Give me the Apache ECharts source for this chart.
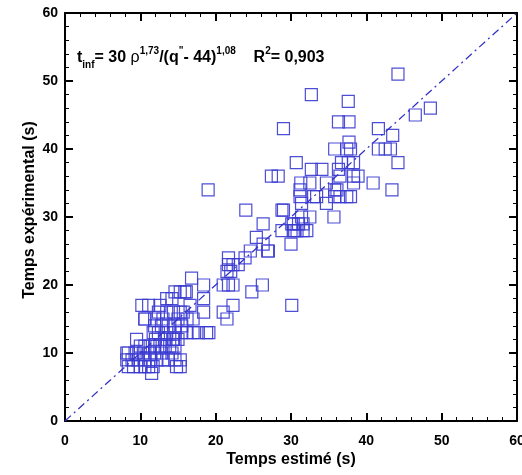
<!DOCTYPE html>
<html><head><meta charset="utf-8">
<script src="https://cdn.jsdelivr.net/npm/echarts@6/dist/echarts.min.js"></script>
<style>html,body{margin:0;padding:0;background:#fff}#c{width:522px;height:475px}</style>
</head><body><div id="c"></div>
<script>
// Estimated time (x) vs experimental time (y)
const estimated = [
44.2,32.7,37.6,48.5,46.5,36.3,37.7,29.0,41.6,43.5,37.7,
35.8,37.4,37.9,41.6,42.5,43.2,
30.7,36.7,37.6,38.3,44.2,
32.7,34.1,36.3,
27.4,28.3,36.5,38.3,38.9,
31.3,32.5,34.7,38.3,40.9,
19.0,31.2,35.8,36.1,43.4,
31.2,33.4,33.0,35.8,36.5,37.4,37.9,
31.4,34.7,
24.0,28.8,29.0,
31.4,32.5,35.7,
26.3,30.3,31.0,31.6,30.1,
28.8,30.3,30.8,31.6,32.1,30.5,
25.4,
26.3,30.0,
24.6,26.9,27.0,
23.9,21.7,
21.7,22.3,23.0,
21.5,22.0,
16.8,
21.0,21.7,22.3,26.2,18.4,
24.8,14.6,15.3,15.9,16.1,
18.4,
22.3,30.1,16.6,
21.0,15.7,12.4,13.5,14.4,15.3,18.4,
21.5,17.0,10.6,16.2,
11.9,12.8,13.7,14.6,15.5,
11.7,12.4,13.5,14.6,15.5,16.2,17.0,17.7,19.1,18.8,
14.4,15.0,9.5,
10.0,10.6,11.3,11.9,12.6,13.3,13.9,14.6,
8.4,9.3,10.4,11.3,11.9,12.8,14.2,8.2,9.5,
8.2,8.9,9.7,10.6,11.3,12.2,13.0,13.7,14.6,15.3,
8.4,9.1,10.0,10.6,11.7,14.8,15.3,11.1,
11.5,
10.2,11.1,12.6,13.5,14.2,
10.6,11.9,13.0,15.0,
12.0,13.2,14.3
];
const experimental = [
51,48,47,46,45,44,44,43,43,42,41,
40,40,40,40,40,40,
38,38,38,38,38,
37,37,37,
36,36,36,36,36,
35,35,35,35,35,
34,34,34,34,34,
33,33,33,33,33,33,33,
32,32,
31,31,31,
30,30,30,
29,29,29,29,29,
28,28,28,28,28,28,
27,
26,26,
25,25,25,
24,24,
23,23,23,
22,22,
21,
20,20,20,20,20,
19,19,19,19,19,
18,
17,17,17,
16,16,16,16,16,16,16,
15,15,15,15,
14,14,14,14,14,
13,13,13,13,13,13,13,13,13,13,
12,12,12,
11,11,11,11,11,11,11,11,
10,10,10,10,10,10,10,10,10,
9,9,9,9,9,9,9,9,9,9,
8,8,8,8,8,8,8,8,
7,
17,17,17,18,18,
15,15,15,15,
12,12,12
];
const fitLine = [[0,0],[60,60]];

const points = estimated.map((x,i)=>[x, experimental[i]]);
const font = '"Liberation Sans", Arial, sans-serif';
function axisCommon() {
  return {
    min: 0, max: 60, interval: 10,
    axisLine: {show: true, onZero: false, lineStyle: {color: '#000', width: 2}},
    axisTick: {show: true, inside: true, length: 8, lineStyle: {color: '#000', width: 2}},
    minorTick: {show: true, splitNumber: 5, length: 4, lineStyle: {color: '#000', width: 1}},
    splitLine: {show: false}
  };
}
const chart = echarts.init(document.getElementById('c'), null, {renderer: 'canvas'});
chart.setOption({
  animation: false,
  backgroundColor: '#fff',
  grid: {left: 65, right: 5, top: 13, bottom: 54, containLabel: false, outerBoundsMode: 'none'},
  xAxis: [
    Object.assign(axisCommon(), {type: 'value', position: 'bottom',
      name: 'Temps estimé (s)', nameLocation: 'middle', nameGap: 31, nameMoveOverlap: false,
      nameTextStyle: {fontFamily: font, fontWeight: 'bold', fontSize: 16, color: '#000'},
      axisLabel: {fontFamily: font, fontWeight: 'bold', fontSize: 14, color: '#000', margin: 13}}),
    Object.assign(axisCommon(), {type: 'value', position: 'top', axisLabel: {show: false}})
  ],
  yAxis: [
    Object.assign(axisCommon(), {type: 'value', position: 'left',
      name: 'Temps expérimental (s)', nameLocation: 'middle', nameGap: 27, nameMoveOverlap: false,
      nameTextStyle: {fontFamily: font, fontWeight: 'bold', fontSize: 16, color: '#000', padding: [0, 0, 0, 14]},
      axisLabel: {fontFamily: font, fontWeight: 'bold', fontSize: 14, color: '#000', margin: 7}}),
    Object.assign(axisCommon(), {type: 'value', position: 'right', axisLabel: {show: false}})
  ],
  series: [
    {type: 'line', data: fitLine, symbol: 'none', silent: true,
     lineStyle: {color: '#3434c4', width: 1.3, type: [8, 4, 2, 4]}},
    {type: 'scatter', data: points, symbol: 'rect', symbolSize: 12,
     itemStyle: {color: 'rgba(0,0,0,0)', borderColor: '#3a3ad2', borderWidth: 1.2, opacity: 0.9}}
  ],
  graphic: [{
    type: 'text', left: 77, top: 46, silent: true,
    style: {
      text: '{m|t}{sub|inf}{m|= 30 }{rho|ρ}{sup|1,73}{m|/(q}{sup|"}{m|- 44)}{sup|1,08}{m|    R}{sup|2}{m|= 0,903}',
      rich: {
        m: {fontFamily: font, fontWeight: 'bold', fontSize: 16, fill: '#000', lineHeight: 24, verticalAlign: 'middle'},
        rho: {fontFamily: font, fontSize: 16, fill: '#000', lineHeight: 24},
        sup: {fontFamily: font, fontWeight: 'bold', fontSize: 10, fill: '#000', verticalAlign: 'top', lineHeight: 24},
        sub: {fontFamily: font, fontWeight: 'bold', fontSize: 10, fill: '#000', verticalAlign: 'bottom', lineHeight: 24}
      }
    }
  }]
});
</script></body></html>
